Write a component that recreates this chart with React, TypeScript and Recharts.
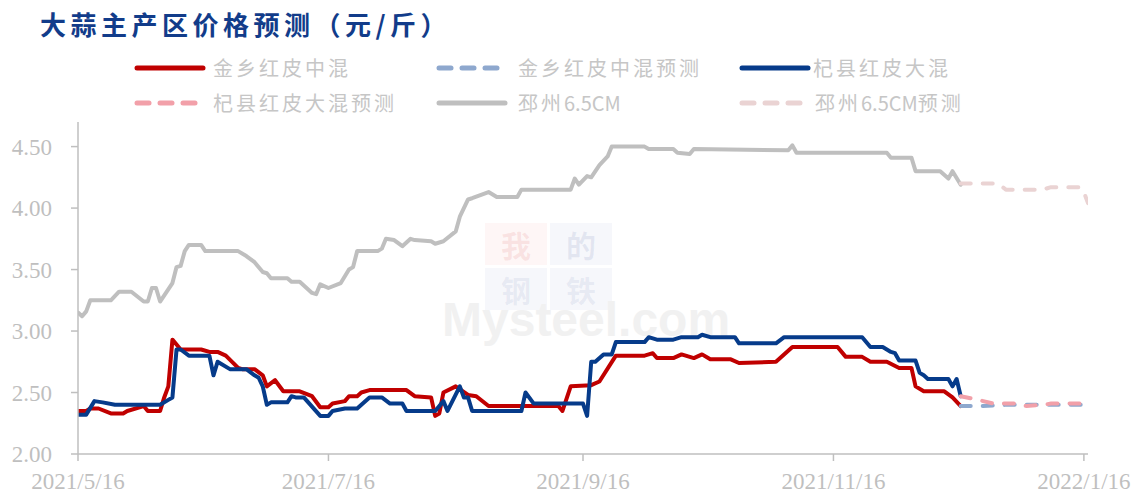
import React from 'react';
import { LineChart, Line, XAxis, YAxis } from 'recharts';

// x = days since 2021/5/16
const tickDays = [0, 61, 123, 184, 245];
const tickLabels = ['2021/5/16', '2021/7/16', '2021/9/16', '2021/11/16', '2022/1/16'];
const yTicks = [2, 2.5, 3, 3.5, 4, 4.5];

const pizhouDays = [0, 1, 2, 3, 8, 10, 13, 16, 17, 18, 19, 20, 23, 24, 25, 26, 27, 30, 31, 39, 41, 43, 45, 46, 47, 51, 52, 54, 57, 58, 59, 61, 64, 66, 67, 68, 73, 74, 75, 77, 79, 81, 82, 86, 87, 89, 92, 93, 95, 96, 100, 102, 107, 108, 120, 121, 122, 124, 125, 127, 129, 130, 138, 139, 145, 146, 149, 150, 173, 174, 175, 197, 198, 203, 204, 210, 212, 213, 215];
const pizhouPrices = [3.15, 3.12, 3.16, 3.25, 3.25, 3.32, 3.32, 3.24, 3.24, 3.35, 3.35, 3.24, 3.39, 3.52, 3.53, 3.65, 3.70, 3.70, 3.65, 3.65, 3.61, 3.56, 3.48, 3.47, 3.43, 3.43, 3.40, 3.40, 3.31, 3.30, 3.38, 3.35, 3.39, 3.50, 3.52, 3.65, 3.65, 3.67, 3.75, 3.74, 3.69, 3.75, 3.74, 3.73, 3.71, 3.73, 3.81, 3.93, 4.07, 4.08, 4.13, 4.09, 4.09, 4.15, 4.15, 4.24, 4.19, 4.26, 4.25, 4.35, 4.42, 4.50, 4.50, 4.48, 4.48, 4.45, 4.44, 4.48, 4.47, 4.51, 4.45, 4.45, 4.41, 4.41, 4.30, 4.30, 4.24, 4.30, 4.19];

const pizhouFcDays = [215, 224, 226, 235, 237, 244, 245, 246];
const pizhouFcPrices = [4.20, 4.20, 4.15, 4.15, 4.17, 4.17, 4.13, 4.04];

const jinxiangDays = [0, 2, 3, 5, 8, 11, 12, 16, 17, 20, 21, 22, 23, 24, 25, 30, 32, 34, 36, 39, 40, 43, 45, 46, 48, 50, 54, 57, 59, 61, 62, 65, 66, 68, 69, 71, 80, 82, 86, 87, 88, 89, 92, 95, 97, 100, 117, 118, 120, 125, 127, 131, 138, 140, 141, 145, 147, 150, 152, 154, 159, 161, 170, 174, 185, 187, 191, 193, 197, 200, 203, 204, 206, 211, 213, 215];
const jinxiangPrices = [2.35, 2.35, 2.37, 2.37, 2.33, 2.33, 2.35, 2.39, 2.35, 2.35, 2.46, 2.55, 2.93, 2.89, 2.85, 2.85, 2.83, 2.83, 2.80, 2.70, 2.69, 2.69, 2.64, 2.55, 2.60, 2.51, 2.51, 2.47, 2.38, 2.38, 2.41, 2.43, 2.47, 2.47, 2.50, 2.52, 2.52, 2.47, 2.46, 2.31, 2.33, 2.50, 2.55, 2.48, 2.47, 2.39, 2.39, 2.35, 2.55, 2.56, 2.59, 2.80, 2.80, 2.82, 2.78, 2.78, 2.81, 2.78, 2.81, 2.77, 2.77, 2.74, 2.75, 2.87, 2.87, 2.79, 2.79, 2.75, 2.75, 2.70, 2.70, 2.55, 2.51, 2.51, 2.46, 2.39];

const jinxiangFcDays = [215, 220, 226, 238, 246];
const jinxiangFcPrices = [2.39, 2.39, 2.40, 2.40, 2.40];

const qixianDays = [0, 2, 4, 6, 9, 20, 22, 23, 24, 25, 27, 32, 33, 34, 37, 41, 43, 44, 45, 46, 47, 51, 52, 53, 55, 59, 61, 62, 65, 68, 71, 74, 76, 79, 80, 87, 89, 90, 93, 94, 95, 96, 108, 109, 111, 123, 124, 125, 126, 128, 130, 131, 138, 139, 141, 145, 147, 151, 152, 154, 160, 161, 170, 172, 191, 193, 196, 198, 199, 200, 204, 205, 206, 207, 212, 213, 214, 215];
const qixianPrices = [2.32, 2.32, 2.43, 2.42, 2.40, 2.40, 2.44, 2.46, 2.85, 2.85, 2.80, 2.80, 2.64, 2.75, 2.69, 2.69, 2.64, 2.62, 2.55, 2.40, 2.42, 2.42, 2.47, 2.46, 2.46, 2.31, 2.31, 2.35, 2.37, 2.37, 2.46, 2.46, 2.41, 2.41, 2.35, 2.35, 2.43, 2.35, 2.55, 2.46, 2.46, 2.35, 2.35, 2.50, 2.41, 2.41, 2.31, 2.75, 2.75, 2.81, 2.81, 2.91, 2.91, 2.95, 2.93, 2.93, 2.95, 2.95, 2.97, 2.95, 2.95, 2.90, 2.90, 2.95, 2.95, 2.87, 2.87, 2.83, 2.82, 2.76, 2.76, 2.66, 2.64, 2.61, 2.61, 2.55, 2.61, 2.47];

const qixianFcDays = [215, 218, 223, 228, 231, 235, 237, 246];
const qixianFcPrices = [2.47, 2.45, 2.41, 2.41, 2.39, 2.40, 2.41, 2.41];

const toPoints = (days: number[], prices: number[]) => days.map((d, i) => ({ day: d, v: prices[i] }));

const AXIS = '#BFBFBF';
const serif = '"Liberation Serif", "DejaVu Serif", serif';
const cjk = '"Noto Sans CJK SC", sans-serif';

const series = [
  { key: 'pz', name: '邳州6.5CM', data: toPoints(pizhouDays, pizhouPrices), color: '#BFBFBF', dash: undefined },
  { key: 'jx', name: '金乡红皮中混', data: toPoints(jinxiangDays, jinxiangPrices), color: '#C00000', dash: undefined },
  { key: 'qx', name: '杞县红皮大混', data: toPoints(qixianDays, qixianPrices), color: '#063B8A', dash: undefined },
  { key: 'pzf', name: '邳州6.5CM预测', data: toPoints(pizhouFcDays, pizhouFcPrices), color: '#EAD3D3', dash: '10 12' },
  { key: 'jxf', name: '金乡红皮中混预测', data: toPoints(jinxiangFcDays, jinxiangFcPrices), color: '#8EA8CE', dash: '10 12' },
  { key: 'qxf', name: '杞县红皮大混预测', data: toPoints(qixianFcDays, qixianFcPrices), color: '#F2A0A9', dash: '10 12' },
];

// legend layout: [series key, sample x, text x, row y]
const legendSlots: [string, number, number, number][] = [
  ['jx', 135, 213, 68],
  ['jxf', 437, 518, 68],
  ['qx', 740, 813, 68],
  ['qxf', 135, 213, 103],
  ['pz', 437, 518, 103],
  ['pzf', 740, 815, 103],
];

// CJK runs get extra spacing, latin runs none
const spaced = (name: string) =>
  name.split(/([0-9A-Za-z.]+)/).filter(Boolean).map((part, i) => (
    <span key={i} style={{ letterSpacing: /[0-9A-Za-z]/.test(part) ? 0 : 3 }}>{part}</span>
  ));

const LegendRow = () => (
  <>
    {legendSlots.map(([k, sx, tx, y]) => {
      const s = series.find((x) => x.key === k)!;
      return (
        <React.Fragment key={k}>
          <svg style={{ position: 'absolute', left: sx - 3, top: y - 6 }} width={76} height={12}>
            {s.dash ? (
              [0, 1, 2].map((i) => (
                <line key={i} x1={5 + i * 23} x2={17 + i * 23} y1={6} y2={6} stroke={s.color} strokeWidth={5} strokeLinecap="round" />
              ))
            ) : (
              <line x1={5} x2={71} y1={6} y2={6} stroke={s.color} strokeWidth={5} strokeLinecap="round" />
            )}
          </svg>
          <div style={{ position: 'absolute', left: tx, top: y - 14, fontFamily: cjk, fontSize: 20, lineHeight: '28px', color: '#C6C6C6', whiteSpace: 'nowrap' }}>
            {spaced(s.name)}
          </div>
        </React.Fragment>
      );
    })}
  </>
);

const Watermark = () => {
  const cell = (ch: string, bg: string, fg: string, l: number, t: number) => (
    <div style={{ position: 'absolute', left: l, top: t, width: 62, height: 42, background: bg }}>
      <div style={{ position: 'absolute', left: 0, right: 0, top: 4, color: fg, fontFamily: '"Noto Sans CJK SC", serif', fontWeight: 700, fontSize: 30, lineHeight: '34px', textAlign: 'center' }}>{ch}</div>
    </div>
  );
  return (
    <>
      {cell('我', 'rgba(230,80,80,0.05)', 'rgba(220,90,90,0.13)', 485, 223)}
      {cell('的', 'rgba(80,100,170,0.05)', 'rgba(90,110,170,0.12)', 550, 223)}
      {cell('钢', 'rgba(80,100,170,0.05)', 'rgba(90,110,170,0.10)', 485, 268)}
      {cell('铁', 'rgba(80,100,170,0.05)', 'rgba(90,110,170,0.10)', 550, 268)}
      <div style={{ position: 'absolute', left: 442, top: 292, fontFamily: 'Arial, "Liberation Sans", sans-serif', fontWeight: 700, fontSize: 48, lineHeight: '56px', color: '#F1F1F1' }}>Mysteel.com</div>
    </>
  );
};

export default function App() {
  return (
    <div style={{ position: 'absolute', left: 0, top: 0, width: 1142, height: 498, background: '#fff', overflow: 'hidden' }}>
      <Watermark />
      <div style={{ position: 'absolute', left: 40, top: 5, fontFamily: cjk, fontWeight: 700, fontSize: 26, letterSpacing: 4.5, color: '#123C8A', whiteSpace: 'nowrap' }}>
        大蒜主产区价格预测（元/斤）
      </div>
      <LegendRow />
      <div style={{ position: 'absolute', left: 0, top: 0 }}>
        <LineChart width={1142} height={498} margin={{ top: 122, right: 54, bottom: 0, left: 0 }}>
          <XAxis
            type="number"
            dataKey="day"
            domain={[0, 246]}
            ticks={tickDays}
            interval={0}
            tickFormatter={(d: number) => tickLabels[tickDays.indexOf(d)] ?? ''}
            height={44}
            tickSize={7}
            tickMargin={12}
            axisLine={{ stroke: AXIS, strokeWidth: 1.5 }}
            tickLine={{ stroke: AXIS, strokeWidth: 1.5 }}
            tick={{ fill: AXIS, fontSize: 23, fontFamily: serif }}
            allowDataOverflow
          />
          <YAxis
            type="number"
            domain={[2, 4.7]}
            ticks={yTicks}
            interval={0}
            tickFormatter={(v: number) => v.toFixed(2)}
            width={78}
            tickSize={7}
            tickMargin={19}
            axisLine={{ stroke: AXIS, strokeWidth: 1.5 }}
            tickLine={{ stroke: AXIS, strokeWidth: 1.5 }}
            tick={{ fill: AXIS, fontSize: 23, fontFamily: serif }}
            allowDataOverflow
          />
          {series.map((s) => (
            <Line
              key={s.key}
              data={s.data}
              dataKey="v"
              name={s.name}
              type="linear"
              stroke={s.color}
              strokeWidth={4}
              strokeDasharray={s.dash}
              strokeLinejoin="round"
              strokeLinecap="round"
              dot={false}
              activeDot={false}
              isAnimationActive={false}
            />
          ))}
        </LineChart>
      </div>
    </div>
  );
}
